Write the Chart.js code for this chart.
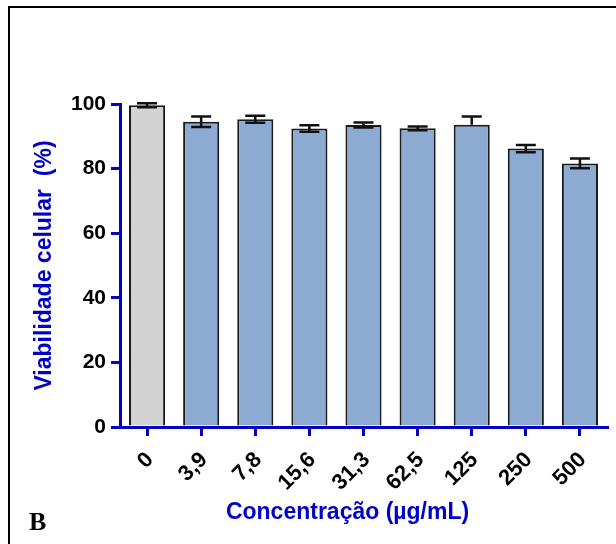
<!DOCTYPE html>
<html>
<head>
<meta charset="utf-8">
<script src="https://cdn.jsdelivr.net/npm/chart.js@4.4.0/dist/chart.umd.min.js"></script>
<style>
  html, body { margin: 0; padding: 0; background: #fff; }
  #wrap { position: relative; width: 616px; height: 544px; overflow: hidden; }
  #cadre { position: absolute; left: 8px; top: 6px; width: 700px; height: 700px;
           border-left: 2px solid #000; border-top: 2px solid #000; }
  canvas { position: absolute; left: 0; top: 0; }
</style>
</head>
<body>
<div id="wrap">
  <div id="cadre"></div>
  <canvas id="viabilidade" width="616" height="544"></canvas>
</div>
<script>
// concentrations (µg/mL)
const concentracoes = ["0", "3,9", "7,8", "15,6", "31,3", "62,5", "125", "250", "500"]
// viabilidade média (%)
const viabilidade = [99.6, 94.5, 95.3, 92.4, 93.5, 92.5, 93.6, 86.2, 81.6]
// barras de erro (acima / abaixo)
const erroCima = [0.6, 1.6, 1.1, 1.0, 0.8, 0.5, 2.5, 1.1, 1.5]
const erroBaixo = [0.6, 1.6, 1.1, 1.0, 0.8, 0.6, 0, 1.1, 1.5]
// graduações do eixo y
const ticksY = [0, 20, 40, 60, 80, 100]

const azul = "#0000C8"
const corBarras = concentracoes.map((c, i) => i == 0 ? "#D3D3D3" : "#8CAAD2")

// barras de erro desenhadas com as escalas do gráfico
const barrasErro = {
  id: "barrasErro",
  afterDatasetsDraw(chart) {
    const ctx = chart.ctx
    const meta = chart.getDatasetMeta(0)
    const y = chart.scales.y
    ctx.save()
    ctx.strokeStyle = "#111"
    ctx.lineWidth = 2.5
    for (let i = 0; i < viabilidade.length; i++) {
      const x = meta.data[i].x
      const yCima = y.getPixelForValue(viabilidade[i] + erroCima[i])
      const yBaixo = y.getPixelForValue(viabilidade[i] - erroBaixo[i])
      ctx.beginPath()
      ctx.moveTo(x, yCima); ctx.lineTo(x, yBaixo)
      ctx.moveTo(x - 10, yCima); ctx.lineTo(x + 10, yCima)
      if (erroBaixo[i] > 0) { ctx.moveTo(x - 10, yBaixo); ctx.lineTo(x + 10, yBaixo) }
      ctx.stroke()
    }
    ctx.restore()
  }
}

// letra do painel
const letraPainel = {
  id: "letraPainel",
  afterDraw(chart) {
    const ctx = chart.ctx
    ctx.save()
    ctx.fillStyle = "#000"
    ctx.font = "bold 26px 'Liberation Serif', 'Times New Roman', serif"
    ctx.textBaseline = "alphabetic"
    ctx.fillText("B", 29, 530)
    ctx.restore()
  }
}

new Chart(document.getElementById("viabilidade"), {
  type: "bar",
  data: {
    labels: concentracoes,
    datasets: [{
      data: viabilidade,
      backgroundColor: corBarras,
      borderColor: "#1a1a1a",
      borderWidth: 2,
      categoryPercentage: 1,
      barPercentage: 0.667
    }]
  },
  options: {
    responsive: false,
    animation: false,
    layout: { padding: { left: 0, top: 104, right: 9, bottom: 0 } },
    plugins: { legend: { display: false }, tooltip: { enabled: false } },
    scales: {
      x: {
        afterFit(scale) { scale.height = 117 },
        border: { color: azul, width: 3 },
        grid: { offset: false, drawOnChartArea: false, color: azul, lineWidth: 3, tickLength: 9 },
        ticks: {
          color: "#000",
          font: { family: "'Liberation Sans', Arial, sans-serif", size: 22, weight: "bold" },
          minRotation: 45, maxRotation: 45, padding: 11, labelOffset: 3
        },
        title: {
          display: true,
          text: "Concentração (µg/mL)     ",
          color: azul,
          font: { family: "'Liberation Sans', Arial, sans-serif", size: 23, weight: "bold" },
          padding: { top: 0, bottom: 18 }
        }
      },
      y: {
        min: 0, max: 100,
        afterFit(scale) { scale.width = 120 },
        afterBuildTicks(scale) { scale.ticks = ticksY.map(v => ({ value: v })) },
        border: { color: azul, width: 3 },
        grid: { drawOnChartArea: false, color: azul, lineWidth: 3, tickLength: 9 },
        ticks: {
          color: "#000",
          font: { family: "'Liberation Sans', Arial, sans-serif", size: 21, weight: "bold" },
          padding: 5
        },
        title: {
          display: true,
          text: "Viabilidade celular  (%)",
          color: azul,
          font: { family: "'Liberation Sans', Arial, sans-serif", size: 23, weight: "bold" },
          padding: { top: 31, bottom: 0 }
        }
      }
    }
  },
  plugins: [barrasErro, letraPainel]
})
</script>
</body>
</html>
